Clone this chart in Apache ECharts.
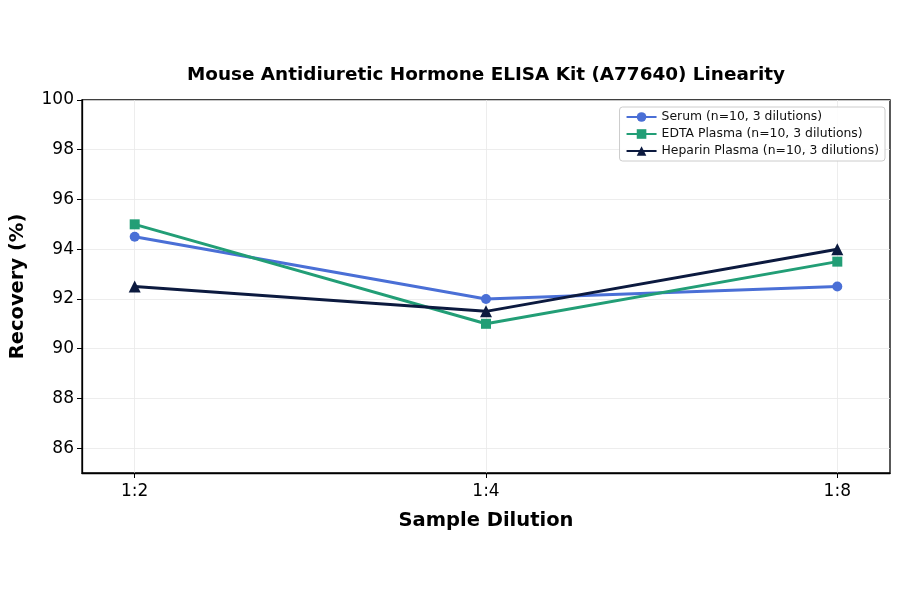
<!DOCTYPE html>
<html>
<head>
<meta charset="utf-8">
<script src="https://cdn.jsdelivr.net/npm/echarts@6/dist/echarts.min.js"></script>
<style>
html, body { margin: 0; padding: 0; background: #fff; }
#chart { width: 900px; height: 594px; }
</style>
</head>
<body>
<div id="chart"></div>
<script>
// data
const dilutions = ['1:2', '1:4', '1:8']
const serum = [94.5, 92.0, 92.5]
const edta = [95.0, 91.0, 93.5]
const heparin = [92.5, 91.5, 94.0]
const yTicks = [86, 88, 90, 92, 94, 96, 98, 100]

const seriesNames = [
    'Serum (n=10, 3 dilutions)',
    'EDTA Plasma (n=10, 3 dilutions)',
    'Heparin Plasma (n=10, 3 dilutions)'
]
const colors = ['#4a6fd6', '#229e76', '#0c1a3f']
const symbols = ['circle', 'rect', 'triangle']

const toPoints = (vals) => vals.map((v, i) => [i, v])

const chart = echarts.init(document.getElementById('chart'))
const font = 'DejaVu Sans'

const option = {
    backgroundColor: '#fff',
    animation: false,
    title: {
        text: 'Mouse Antidiuretic Hormone ELISA Kit (A77640) Linearity',
        left: 481,
        top: 61,
        textAlign: 'center',
        textStyle: { fontFamily: font, fontSize: 18.4, fontWeight: 'bold', color: '#000' }
    },
    grid: {
        left: 82, right: 10, top: 100, bottom: 121,
        show: true, borderColor: '#000', borderWidth: 1.3, backgroundColor: 'transparent'
    },
    legend: {
        right: 15,
        top: 107,
        orient: 'vertical',
        itemGap: 5,
        itemWidth: 30,
        itemHeight: 12,
        padding: [4, 6, 4, 6],
        borderColor: '#cccccc',
        borderWidth: 1,
        borderRadius: 3,
        backgroundColor: 'rgba(255,255,255,0.85)',
        textStyle: { fontFamily: font, fontSize: 12.4, color: '#111' },
        data: seriesNames
    },
    xAxis: {
        type: 'value',
        min: -0.15,
        max: 2.15,
        name: 'Sample Dilution',
        nameLocation: 'middle',
        nameGap: 38,
        nameTextStyle: { fontFamily: font, fontSize: 19.5, fontWeight: 'bold', color: '#000' },
        axisLine: { show: true, onZero: false, lineStyle: { color: '#000', width: 1.3 } },
        axisTick: { show: true, length: 5, customValues: [0, 1, 2], lineStyle: { color: '#000' } },
        axisLabel: {
            customValues: [0, 1, 2],
            fontFamily: font, fontSize: 17, color: '#000', margin: 10,
            formatter: (v) => dilutions[Math.round(v)]
        },
        splitLine: { show: true, lineStyle: { color: '#e8e8e8', width: 0.8 } }
    },
    yAxis: {
        type: 'value',
        min: 85,
        max: 100,
        name: 'Recovery (%)',
        nameLocation: 'middle',
        nameGap: 54,
        nameTextStyle: { fontFamily: font, fontSize: 19.5, fontWeight: 'bold', color: '#000' },
        axisLine: { show: true, onZero: false, lineStyle: { color: '#000', width: 1.3 } },
        axisTick: { show: true, length: 5, customValues: yTicks, lineStyle: { color: '#000' } },
        axisLabel: { customValues: yTicks, fontFamily: font, fontSize: 17, color: '#000', margin: 8 },
        splitLine: { show: true, lineStyle: { color: '#e8e8e8', width: 0.8 } }
    },
    series: [serum, edta, heparin].map((vals, i) => ({
        name: seriesNames[i],
        type: 'line',
        data: toPoints(vals),
        symbol: symbols[i],
        symbolSize: i === 2 ? 12 : 10,
        lineStyle: { width: 3, color: colors[i] },
        itemStyle: { color: colors[i] },
        z: 2 + i
    }))
}

chart.setOption(option)
</script>
</body>
</html>
